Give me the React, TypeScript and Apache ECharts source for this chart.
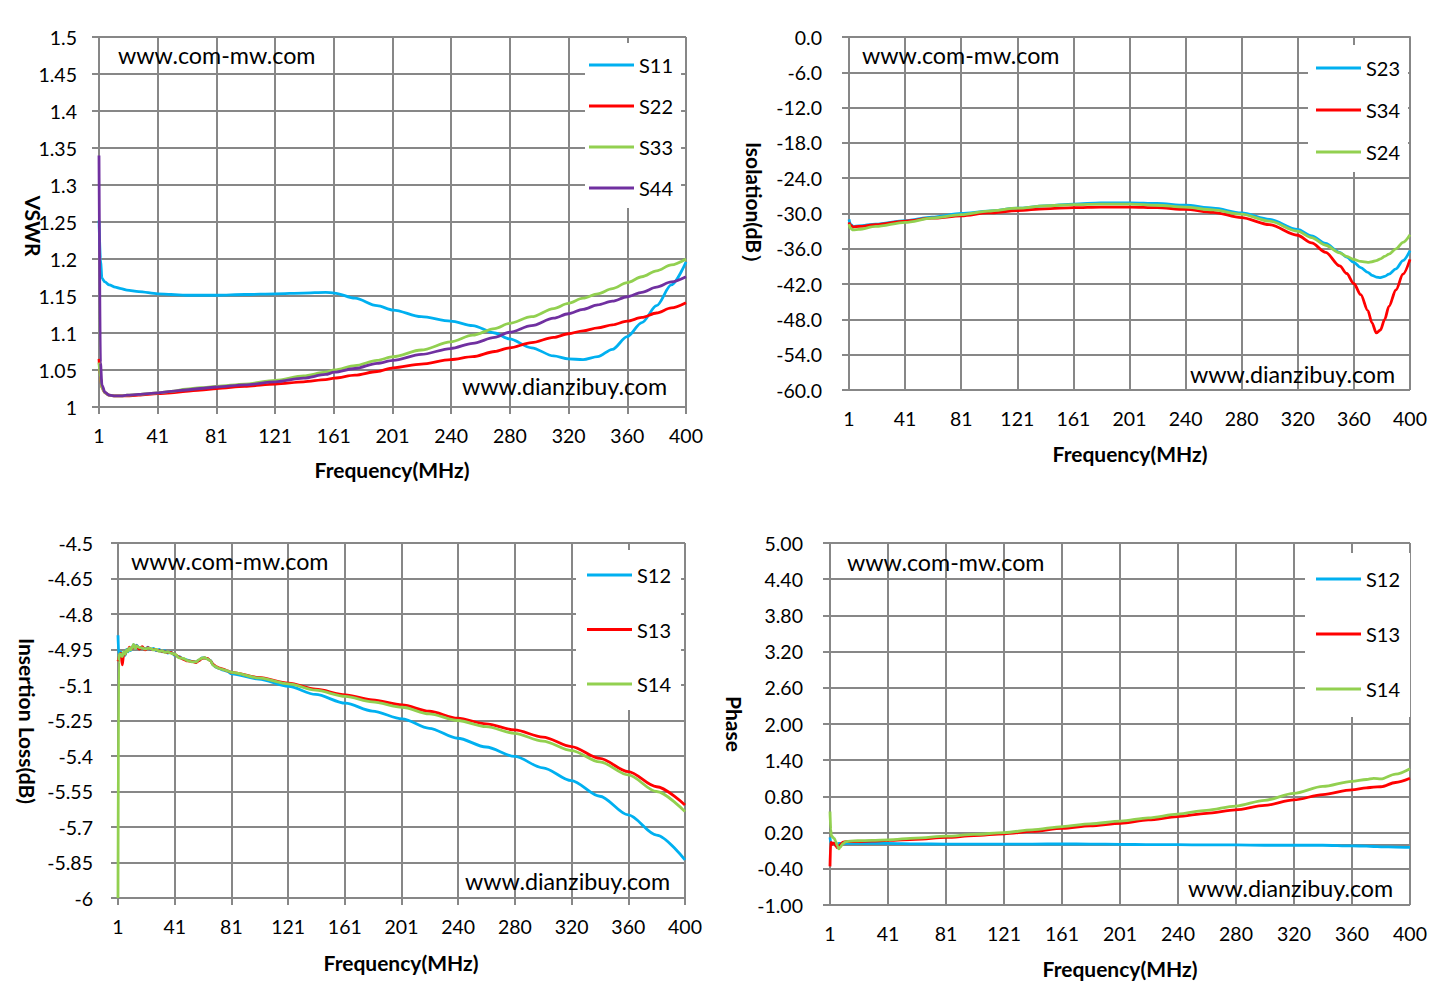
import React, { useEffect, useRef } from "react";
import * as echarts from "echarts";

// ---------- tick labels ----------
const freqTicks = ["1", "41", "81", "121", "161", "201", "240", "280", "320", "360", "400"];

// ---------- VSWR (top-left) ----------
const vswrFreq = [1, 2, 3, 5, 8, 12, 16, 20, 28, 41, 50, 60, 70, 81, 100, 121, 140, 155, 161, 175, 190, 201, 220, 240, 255, 270, 280, 295, 310, 320, 330, 340, 350, 360, 370, 380, 390, 400];
const vswrS11 = [1.252, 1.2, 1.174, 1.169, 1.165, 1.162, 1.16, 1.158, 1.156, 1.153, 1.152, 1.151, 1.151, 1.151, 1.152, 1.153, 1.154, 1.155, 1.154, 1.147, 1.137, 1.131, 1.122, 1.116, 1.11, 1.1, 1.092, 1.08, 1.069, 1.065, 1.064, 1.068, 1.078, 1.095, 1.114, 1.137, 1.165, 1.196];
const vswrS22 = [1.065, 1.04, 1.026, 1.019, 1.016, 1.015, 1.015, 1.015, 1.016, 1.018, 1.019, 1.021, 1.023, 1.025, 1.028, 1.031, 1.034, 1.037, 1.039, 1.043, 1.048, 1.053, 1.058, 1.064, 1.068, 1.075, 1.08, 1.087, 1.094, 1.099, 1.103, 1.107, 1.111, 1.116, 1.121, 1.127, 1.134, 1.141];
const vswrS33 = [1.06, 1.04, 1.026, 1.019, 1.016, 1.015, 1.015, 1.016, 1.017, 1.019, 1.021, 1.024, 1.026, 1.028, 1.031, 1.036, 1.042, 1.047, 1.05, 1.056, 1.063, 1.068, 1.077, 1.088, 1.097, 1.106, 1.113, 1.122, 1.133, 1.14, 1.147, 1.153, 1.16, 1.168, 1.176, 1.184, 1.192, 1.2];
const vswrS44 = [1.34, 1.06, 1.03, 1.02, 1.016, 1.015, 1.015, 1.016, 1.017, 1.019, 1.021, 1.023, 1.025, 1.027, 1.03, 1.034, 1.039, 1.044, 1.047, 1.052, 1.059, 1.063, 1.071, 1.079, 1.086, 1.094, 1.101, 1.11, 1.12, 1.126, 1.132, 1.138, 1.143, 1.149, 1.155, 1.162, 1.169, 1.176];

// ---------- Isolation (top-right) ----------
const isoFreq = [1, 2, 4, 8, 20, 41, 60, 81, 100, 121, 140, 161, 180, 201, 220, 240, 260, 280, 300, 320, 330, 340, 350, 355, 360, 365, 370, 373, 376, 379, 382, 385, 390, 395, 400];
const isoS23 = [-31.0, -31.8, -32.2, -32.1, -31.8, -31.2, -30.6, -30.0, -29.6, -29.1, -28.7, -28.4, -28.2, -28.2, -28.3, -28.6, -29.1, -29.9, -31.0, -32.7, -33.8, -35.1, -36.6, -37.4, -38.3, -39.2, -40.0, -40.5, -40.8, -40.9, -40.7, -40.3, -39.4, -38.0, -36.3];
const isoS34 = [-31.5, -32.0, -32.3, -32.2, -31.9, -31.3, -30.8, -30.4, -29.9, -29.5, -29.2, -29.0, -28.9, -28.9, -29.0, -29.3, -29.8, -30.7, -31.9, -33.7, -35.0, -36.6, -38.9, -40.2, -41.9, -43.8, -46.5, -48.6, -50.3, -49.8, -48.0, -45.8, -43.0, -40.3, -37.8];
const isoS24 = [-31.8, -32.5, -32.8, -32.7, -32.2, -31.5, -30.8, -30.2, -29.6, -29.1, -28.7, -28.5, -28.4, -28.4, -28.6, -28.9, -29.4, -30.1, -31.3, -33.0, -34.1, -35.4, -36.7, -37.3, -37.8, -38.15, -38.3, -38.2, -38.0, -37.7, -37.3, -36.9, -36.0, -34.9, -33.6];

// ---------- Insertion loss (bottom-left) ----------
const ilFreq = [1, 1.5, 2, 3, 4, 5, 6, 7, 8, 9, 10, 11, 12, 13, 14, 16, 18, 20, 22, 24, 26, 28, 30, 32, 34, 36, 38, 41, 44, 47, 50, 53, 56, 58, 60, 62, 64, 66, 68, 70, 72, 75, 78, 81, 100, 121, 140, 161, 180, 201, 220, 240, 260, 280, 300, 320, 340, 360, 380, 400];
const ilS12 = [-4.89, -4.97, -4.98, -4.96, -4.99, -4.965, -4.975, -4.95, -4.96, -4.945, -4.955, -4.94, -4.93, -4.945, -4.932, -4.945, -4.94, -4.95, -4.94, -4.95, -4.945, -4.955, -4.95, -4.96, -4.955, -4.965, -4.96, -4.975, -4.98, -4.99, -4.995, -5.0, -5.003, -4.995, -4.986, -4.985, -4.99, -4.996, -5.015, -5.025, -5.03, -5.037, -5.042, -5.053, -5.075, -5.106, -5.14, -5.177, -5.21, -5.243, -5.283, -5.325, -5.362, -5.402, -5.45, -5.504, -5.57, -5.649, -5.734, -5.839];
const ilS13 = [-5.0, -4.99, -4.975, -4.965, -5.015, -4.97, -4.97, -4.955, -4.955, -4.94, -4.95, -4.945, -4.935, -4.94, -4.935, -4.948, -4.938, -4.952, -4.942, -4.948, -4.95, -4.952, -4.955, -4.958, -4.96, -4.962, -4.962, -4.972, -4.982, -4.992, -4.998, -5.0, -5.005, -4.997, -4.988, -4.986, -4.988, -4.998, -5.013, -5.022, -5.028, -5.033, -5.04, -5.047, -5.068, -5.092, -5.118, -5.142, -5.163, -5.184, -5.211, -5.24, -5.264, -5.29, -5.32, -5.36, -5.41, -5.466, -5.53, -5.607];
const ilS14 = [-6.0, -5.0, -4.97, -4.97, -4.98, -4.96, -4.97, -4.952, -4.958, -4.943, -4.952, -4.94, -4.928, -4.946, -4.935, -4.942, -4.943, -4.948, -4.945, -4.946, -4.952, -4.95, -4.958, -4.956, -4.962, -4.96, -4.965, -4.97, -4.985, -4.988, -4.997, -5.002, -5.002, -4.993, -4.987, -4.984, -4.991, -4.997, -5.017, -5.024, -5.03, -5.035, -5.04, -5.047, -5.07, -5.095, -5.122, -5.148, -5.171, -5.194, -5.222, -5.25, -5.276, -5.304, -5.337, -5.377, -5.425, -5.48, -5.55, -5.635];

// ---------- Phase (bottom-right) ----------
const phFreq = [1, 1.5, 2, 3, 4, 5, 6, 7, 8, 10, 12, 15, 20, 30, 41, 60, 81, 100, 121, 140, 161, 180, 201, 220, 240, 260, 280, 300, 320, 340, 360, 370, 375, 380, 390, 400];
const phS12 = [0.12, 0.04, 0.03, 0.02, 0.02, 0.01, 0.01, 0.02, 0.02, 0.02, 0.02, 0.02, 0.02, 0.02, 0.02, 0.012, 0.01, 0.01, 0.01, 0.01, 0.012, 0.01, 0.005, 0.0, 0.0, -0.005, -0.005, -0.01, -0.01, -0.01, -0.02, -0.025, -0.03, -0.035, -0.04, -0.045];
const phS13 = [-0.36, 0.04, 0.0, 0.03, 0.02, -0.02, -0.05, -0.03, 0.0, 0.04, 0.05, 0.05, 0.05, 0.06, 0.07, 0.09, 0.12, 0.15, 0.18, 0.22, 0.27, 0.31, 0.355, 0.41, 0.465, 0.52, 0.576, 0.65, 0.742, 0.83, 0.908, 0.94, 0.955, 0.96, 1.03, 1.1];
const phS14 = [0.55, 0.25, 0.15, 0.12, 0.1, 0.05, -0.02, -0.07, -0.04, 0.02, 0.05, 0.06, 0.065, 0.07, 0.08, 0.11, 0.14, 0.17, 0.2, 0.245, 0.3, 0.345, 0.39, 0.445, 0.505, 0.57, 0.64, 0.735, 0.85, 0.965, 1.05, 1.08, 1.1, 1.09, 1.17, 1.26];

const BLUE = "#00B0F0";
const RED = "#FF0000";
const GREEN = "#92D050";
const PURPLE = "#7030A0";
const GRAY = "#878787";
const FONT = "Lato";

const zip = (f: number[], v: number[]) => f.map((x, i) => [x, v[i]]);

const panels = [
  {
    grid: { left: 99, top: 37, width: 587, height: 370 },
    y: { min: 1, max: 1.5, interval: 0.05, margin: 22, fmt: (v: number) => String(+v.toFixed(2)) },
    series: [
      { name: "S11", color: BLUE, data: zip(vswrFreq, vswrS11) },
      { name: "S22", color: RED, data: zip(vswrFreq, vswrS22) },
      { name: "S33", color: GREEN, data: zip(vswrFreq, vswrS33) },
      { name: "S44", color: PURPLE, data: zip(vswrFreq, vswrS44) },
    ],
    legend: { left: 585, top: 43, padding: [12, 8, 10, 4], itemGap: 21 },
  },
  {
    grid: { left: 849, top: 37, width: 561, height: 353 },
    y: { min: -60, max: 0, interval: 6, margin: 27, fmt: (v: number) => (Math.abs(v) < 1e-9 ? 0 : v).toFixed(1) },
    series: [
      { name: "S23", color: BLUE, data: zip(isoFreq, isoS23) },
      { name: "S34", color: RED, data: zip(isoFreq, isoS34) },
      { name: "S24", color: GREEN, data: zip(isoFreq, isoS24) },
    ],
    legend: { left: 1308, top: 45, padding: [13, 8, 10, 8], itemGap: 22 },
  },
  {
    grid: { left: 118, top: 543, width: 567, height: 355 },
    y: { min: -6, max: -4.5, interval: 0.15, margin: 25, fmt: (v: number) => String(+v.toFixed(2)) },
    series: [
      { name: "S12", color: BLUE, data: zip(ilFreq, ilS12) },
      { name: "S13", color: RED, data: zip(ilFreq, ilS13) },
      { name: "S14", color: GREEN, data: zip(ilFreq, ilS14) },
    ],
    legend: { left: 576, top: 550, padding: [15, 10, 16, 11], itemGap: 34.5 },
  },
  {
    grid: { left: 830, top: 543, width: 580, height: 362 },
    y: { min: -1, max: 5, interval: 0.6, margin: 27, fmt: (v: number) => (Math.abs(v) < 1e-9 ? 0 : v).toFixed(2) },
    series: [
      { name: "S12", color: BLUE, data: zip(phFreq, phS12) },
      { name: "S13", color: RED, data: zip(phFreq, phS13) },
      { name: "S14", color: GREEN, data: zip(phFreq, phS14) },
    ],
    legend: { left: 1305, top: 553, padding: [16, 10, 18, 11], itemGap: 35 },
  },
];

const titles = [
  { text: "Frequency(MHz)", x: 392, y: 469, rot: 0 },
  { text: "Frequency(MHz)", x: 1130, y: 453, rot: 0 },
  { text: "Frequency(MHz)", x: 401, y: 962, rot: 0 },
  { text: "Frequency(MHz)", x: 1120, y: 968, rot: 0 },
  { text: "VSWR", x: 33, y: 226, rot: -Math.PI / 2 },
  { text: "Isolation(dB）", x: 754, y: 208, rot: -Math.PI / 2 },
  { text: "Insertion Loss(dB)", x: 27, y: 721, rot: -Math.PI / 2 },
  { text: "Phase", x: 734, y: 724, rot: -Math.PI / 2 },
];

const marks = [
  { text: "www.com-mw.com", x: 118, y: 55 },
  { text: "www.dianzibuy.com", x: 462, y: 386 },
  { text: "www.com-mw.com", x: 862, y: 55 },
  { text: "www.dianzibuy.com", x: 1190, y: 374 },
  { text: "www.com-mw.com", x: 131, y: 561 },
  { text: "www.dianzibuy.com", x: 465, y: 881 },
  { text: "www.com-mw.com", x: 847, y: 562 },
  { text: "www.dianzibuy.com", x: 1188, y: 888 },
];

function buildOption() {
  const grid: any[] = [];
  const xAxis: any[] = [];
  const yAxis: any[] = [];
  const series: any[] = [];
  const legend: any[] = [];
  panels.forEach((p, i) => {
    grid.push({ ...p.grid, containLabel: false });
    xAxis.push({
      type: "category",
      gridIndex: i,
      data: freqTicks,
      boundaryGap: false,
      axisLine: { show: true, lineStyle: { color: GRAY, width: 2 } },
      axisTick: { show: true, interval: 0, length: 7, lineStyle: { color: GRAY, width: 2 } },
      axisLabel: { interval: 0, margin: 18, color: "#000", fontFamily: FONT, fontSize: 19.5 },
      splitLine: { show: true, interval: 0, lineStyle: { color: GRAY, width: 2 } },
    });
    xAxis.push({ type: "value", gridIndex: i, min: 1, max: 400, show: false });
    yAxis.push({
      type: "value",
      gridIndex: i,
      min: p.y.min,
      max: p.y.max,
      interval: p.y.interval,
      axisLine: { show: true, lineStyle: { color: GRAY, width: 2 } },
      axisTick: { show: true, length: 7, lineStyle: { color: GRAY, width: 2 } },
      axisLabel: { margin: p.y.margin, color: "#000", fontFamily: FONT, fontSize: 19.5, formatter: p.y.fmt },
      splitLine: { show: true, lineStyle: { color: GRAY, width: 2 } },
    });
    p.series.forEach((s) => {
      series.push({
        type: "line",
        name: s.name,
        xAxisIndex: i * 2 + 1,
        yAxisIndex: i,
        data: s.data,
        showSymbol: false,
        symbol: "none",
        smooth: 0.3,
        smoothMonotone: "x",
        color: s.color,
        lineStyle: { color: s.color, width: 2.8 },
        z: 3,
      });
    });
    legend.push({
      data: p.series.map((s) => s.name),
      orient: "vertical",
      left: p.legend.left,
      top: p.legend.top,
      padding: p.legend.padding,
      itemGap: p.legend.itemGap,
      itemWidth: 45,
      itemHeight: 3,
      icon: "rect",
      backgroundColor: "#fff",
      selectedMode: false,
      textStyle: { color: "#000", fontFamily: FONT, fontSize: 20, lineHeight: 20 },
      z: 5,
    });
  });

  const graphic: any[] = [];
  titles.forEach((t) => {
    graphic.push({
      type: "text",
      x: t.x,
      y: t.y,
      rotation: t.rot,
      z: 10,
      style: { text: t.text, align: "center", verticalAlign: "middle", fill: "#000", font: `bold 21px ${FONT}` },
    });
  });
  marks.forEach((m) => {
    graphic.push({
      type: "text",
      x: m.x,
      y: m.y,
      z: 10,
      style: { text: m.text, align: "left", verticalAlign: "middle", fill: "#000", font: `23.3px ${FONT}` },
    });
  });

  return {
    animation: false,
    backgroundColor: "#fff",
    grid,
    xAxis,
    yAxis,
    series,
    legend,
    graphic,
  };
}

export default function App() {
  const ref = useRef<HTMLDivElement>(null);
  useEffect(() => {
    const chart = echarts.init(ref.current!, null, { renderer: "svg" });
    chart.setOption(buildOption() as any);
    return () => chart.dispose();
  }, []);
  return (
    <div
      ref={ref}
      style={{ position: "fixed", left: 0, top: 0, width: 1438, height: 1007, background: "#fff" }}
    />
  );
}
